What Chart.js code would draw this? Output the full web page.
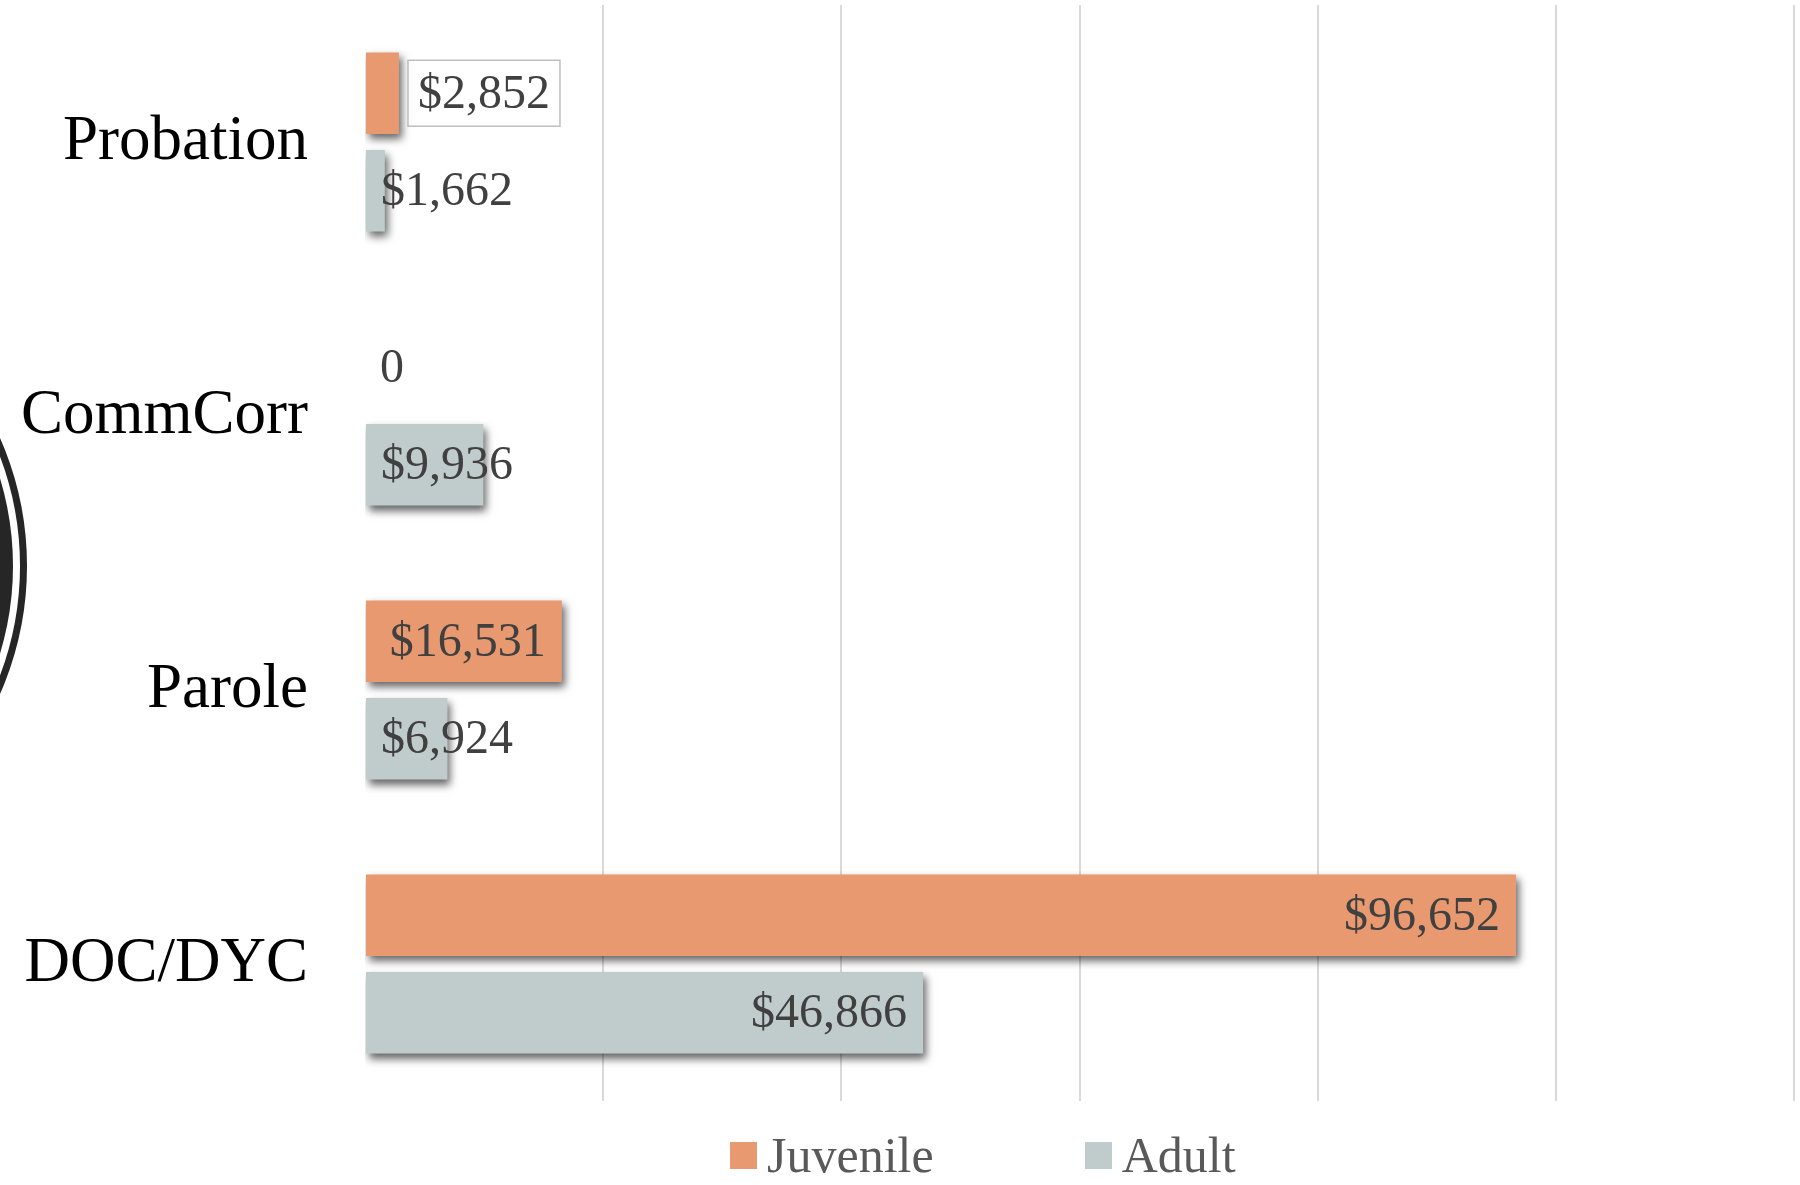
<!DOCTYPE html>
<html>
<head>
<meta charset="utf-8">
<script src="https://cdn.jsdelivr.net/npm/chart.js@4.4.1/dist/chart.umd.min.js"></script>
<style>
  html, body { margin: 0; padding: 0; background: #fff; }
  #wrap { position: relative; width: 1800px; height: 1185px; }
  #legend {
    position: absolute; left: 730px; top: 1126px;
    display: flex; align-items: center;
    font-family: "Liberation Serif", serif; font-size: 50px; color: #595959;
  }
  #legend .item { display: flex; align-items: center; margin-right: 151px; }
  #legend .box { width: 27px; height: 27px; margin-right: 10px; }
</style>
</head>
<body>
<div id="wrap">
  <canvas id="myChart"></canvas>
  <div id="legend"></div>
</div>
<script>
// categories and values
const categories = ["Probation", "CommCorr", "Parole", "DOC/DYC"];
const juvenileCost = [2852, 0, 16531, 96652];
const adultCost = [1662, 9936, 6924, 46866];
const seriesNames = ["Juvenile", "Adult"];
const axisMax = 120000;
const axisStep = 20000;

const colors = ["#E9996F", "#C0CCCB"];

function money(v) {
  if (v === 0) return "0";
  return "$" + v.toLocaleString("en-US");
}

// dark ring cut off at the left edge of the slide
const ringPlugin = {
  id: "ring",
  beforeDraw(chart) {
    const ctx = chart.ctx;
    ctx.save();
    ctx.fillStyle = "#262626";
    ctx.beginPath();
    ctx.arc(-290, 566, 303, 0, Math.PI * 2);
    ctx.fill();
    ctx.strokeStyle = "#262626";
    ctx.lineWidth = 7;
    ctx.beginPath();
    ctx.arc(-290, 566, 313.5, 0, Math.PI * 2);
    ctx.stroke();
    ctx.restore();
  },
};

// drop shadow under the bars
const shadowPlugin = {
  id: "barShadow",
  beforeDatasetsDraw(chart) {
    const ctx = chart.ctx;
    ctx.save();
    ctx.shadowColor = "rgba(0,0,0,0.6)";
    ctx.shadowBlur = 8;
    ctx.shadowOffsetX = 3;
    ctx.shadowOffsetY = 5;
  },
  afterDatasetsDraw(chart) {
    chart.ctx.restore();
  },
};

// value labels, placed like Excel "inside end"
const labelPlugin = {
  id: "valueLabels",
  afterDatasetsDraw(chart) {
    const ctx = chart.ctx;
    ctx.save();
    ctx.font = "48px 'Liberation Serif', serif";
    ctx.fillStyle = "#404040";
    ctx.textBaseline = "middle";
    const pad = 16;
    chart.data.datasets.forEach((ds, di) => {
      const meta = chart.getDatasetMeta(di);
      meta.data.forEach((bar, i) => {
        const v = ds.data[i];
        const text = money(v);
        const w = ctx.measureText(text).width;
        const len = bar.x - bar.base;
        if (di === 0 && i === 0) {
          // boxed label outside the short bar
          const bx = bar.x + 9;
          ctx.strokeStyle = "#BFBFBF";
          ctx.lineWidth = 1.5;
          ctx.strokeRect(bx, bar.y - 33, w + 20, 66);
          ctx.textAlign = "left";
          ctx.fillText(text, bx + 10, bar.y + 2);
        } else if (w + pad * 2 <= len) {
          ctx.textAlign = "right";
          ctx.fillText(text, bar.x - pad, bar.y + 2);
        } else {
          ctx.textAlign = "left";
          ctx.fillText(text, bar.base + 15, bar.y + 2);
        }
      });
    });
    ctx.restore();
  },
};

Chart.defaults.font.family = "'Liberation Serif', serif";

const data = {
  labels: categories,
  datasets: [
    {
      label: seriesNames[0],
      data: juvenileCost,
      backgroundColor: colors[0],
      barPercentage: 0.836,
      categoryPercentage: 0.712,
    },
    {
      label: seriesNames[1],
      data: adultCost,
      backgroundColor: colors[1],
      barPercentage: 0.836,
      categoryPercentage: 0.712,
    },
  ],
};

const config = {
  type: "bar",
  data: data,
  options: {
    indexAxis: "y",
    responsive: true,
    maintainAspectRatio: false,
    animation: false,
    layout: {
      padding: { top: 5, right: 6, bottom: 84, left: 0 },
    },
    plugins: {
      legend: { display: false },
      tooltip: { enabled: false },
    },
    scales: {
      x: {
        min: 0,
        max: axisMax,
        ticks: { display: false, stepSize: axisStep },
        border: { display: false },
        grid: {
          drawTicks: false,
          lineWidth: 2,
          color: (c) => (c.tick && c.tick.value === 0 ? "rgba(0,0,0,0)" : "#D9D9D9"),
        },
        afterFit: (scale) => {
          scale.height = 0;
          scale.paddingLeft = 0;
          scale.paddingRight = 0;
        },
      },
      y: {
        border: { display: false },
        grid: { display: false, drawTicks: false },
        ticks: {
          color: "#000000",
          padding: 57,
          font: { size: 63 },
        },
        afterFit: (scale) => {
          scale.width = 365;
          scale.paddingTop = 0;
          scale.paddingBottom = 0;
        },
      },
    },
  },
  plugins: [ringPlugin, shadowPlugin, labelPlugin],
};

document.addEventListener("DOMContentLoaded", function () {
  const chartElement = document.getElementById("myChart");
  const myChart = new Chart(chartElement, config);

  // legend under the plot
  const legend = document.getElementById("legend");
  myChart.data.datasets.forEach((ds) => {
    const item = document.createElement("div");
    item.className = "item";
    const box = document.createElement("span");
    box.className = "box";
    box.style.background = ds.backgroundColor;
    const label = document.createElement("span");
    label.textContent = ds.label;
    item.appendChild(box);
    item.appendChild(label);
    legend.appendChild(item);
  });
});
</script>
</body>
</html>
